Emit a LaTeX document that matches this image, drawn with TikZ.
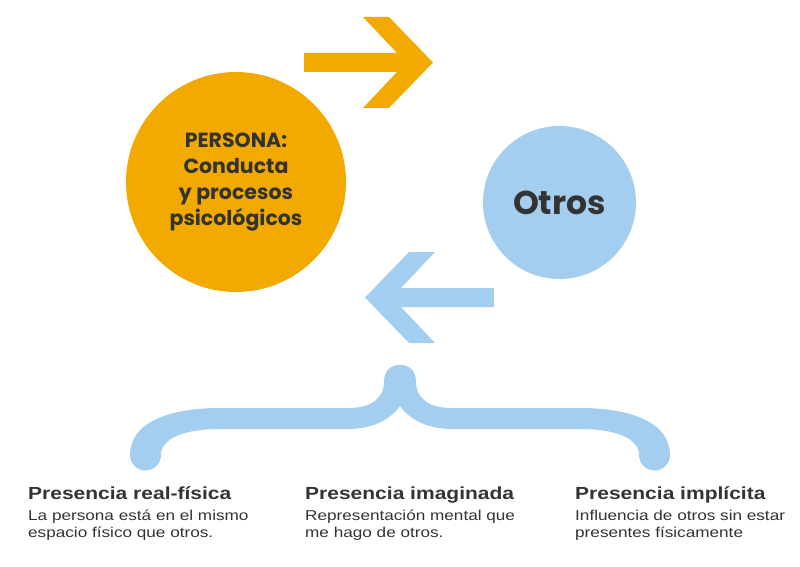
\documentclass[tikz,border=0pt]{standalone}
\usepackage{fontspec}
\setmainfont{Liberation Sans}
\newfontfamily\poppins{Poppins}
\newfontfamily\ancha[FakeStretch=1.2]{Liberation Sans}
\usepackage{xcolor}
\definecolor{naranja}{RGB}{242,169,0}
\definecolor{celeste}{RGB}{163,206,239}
\definecolor{tinta}{RGB}{51,51,51}
\usetikzlibrary{calc}

\tikzset{
  circulo/.style={circle, fill=#1, inner sep=0pt, text=tinta, align=center},
  flecha/.pic={
    \fill (-129,-9.5) -- (-36,-9.5) -- (-70,-45.5) -- (-44,-45.5) -- (0,0)
      -- (-44,45.5) -- (-70,45.5) -- (-36,9.5) -- (-129,9.5) -- cycle;
  },
  titulo/.style={anchor=base west, inner sep=0pt, text=tinta,
    font=\ancha\fontsize{17.5}{20}\selectfont\bfseries},
  texto/.style={anchor=base west, inner sep=0pt, text=tinta, align=left,
    font=\ancha\fontsize{14.3}{17.5}\selectfont}
}

\begin{document}
\begin{tikzpicture}[x=1pt,y=-1pt]
      \useasboundingbox (0,0) rectangle (800,567);

      \node[circulo=naranja, minimum size=220pt,
        font=\poppins\bfseries\fontsize{20.5}{25.7}\selectfont]
        (persona) at (236,182) {PERSONA:\\Conducta\\y procesos\\psicológicos};
      \node[circulo=celeste, minimum size=153pt,
        font=\poppins\bfseries\fontsize{33}{36}\selectfont]
        (otros) at (559.5,202.5) {Otros};

      \pic[color=naranja] (ida) at (433,62.5) {flecha};
      \pic[color=celeste, xscale=-1] (vuelta) at (365,297.5) {flecha};

      % llave
      \fill[celeste] (130,455) .. controls (130,423) and (168,408) .. (220,408)
        -- (348,408) .. controls (374,408) and (384,396) .. (384,382)
        .. controls (384,370) and (391,365) .. (400,365)
        .. controls (409,365) and (416,370) .. (416,382)
        .. controls (416,396) and (426,408) .. (452,408)
        -- (580,408) .. controls (632,408) and (670,423) .. (670,455)
        arc[start angle=0, end angle=180, radius=15.5]
        .. controls (639,438) and (615,429) .. (580,429)
        -- (452,429) .. controls (428,429) and (410,420) .. (400,406)
        .. controls (390,420) and (372,429) .. (348,429)
        -- (220,429) .. controls (185,429) and (161,438) .. (161,455)
        arc[start angle=0, end angle=180, radius=15.5] -- cycle;

      \node[titulo] (t1) at (28,499) {Presencia real-física};
      \node[texto]  (d1) at (28,537.5) {La persona está en el mismo\\espacio físico que otros.};
      \node[titulo] (t2) at (305,499) {Presencia imaginada};
      \node[texto]  (d2) at (305,537.5) {Representación mental que\\me hago de otros.};
      \node[titulo] (t3) at (575,499) {Presencia implícita};
      \node[texto]  (d3) at (575,537.5) {Influencia de otros sin estar\\presentes físicamente};
    \end{tikzpicture}
\end{document}
